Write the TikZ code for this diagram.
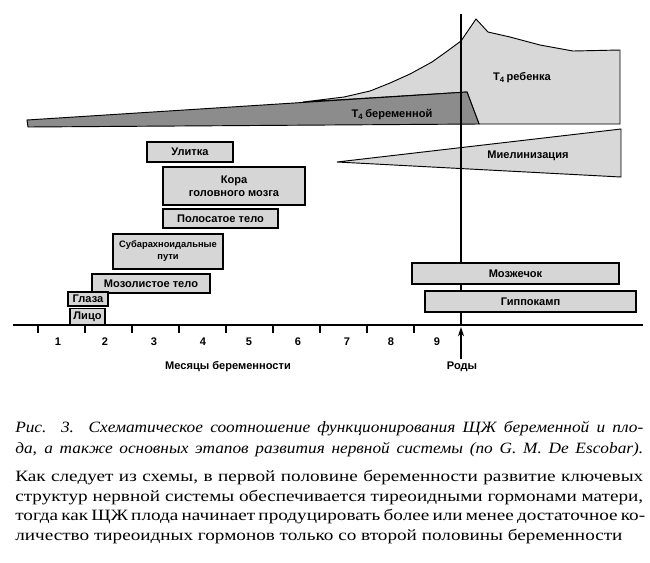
\documentclass[tikz,border=0pt]{standalone}
\usepackage{fontspec}
\setmainfont{Liberation Serif}
\newfontfamily\lsans{Liberation Sans}
\newfontfamily\capfont[FakeStretch=1.22]{Liberation Serif}
\newfontfamily\capit[FakeStretch=1.1]{Liberation Serif}
\usetikzlibrary{arrows.meta}
\definecolor{boxgray}{RGB}{214,214,214}
\definecolor{lightarea}{RGB}{216,216,216}
\definecolor{darkarea}{RGB}{140,140,140}
\tikzset{
  lbl/.style={font=\lsans\bfseries\fontsize{8.3}{9.8}\selectfont, inner sep=0pt, align=center},
  stagebox/.style 2 args={draw, fill=boxgray, line width=0.8pt, minimum width=#1*0.75pt, minimum height=#2*0.75pt, inner sep=0pt, align=center, font=\lsans\bfseries\fontsize{8.3}{9.8}\selectfont},
  capline/.style={anchor=base west, inner sep=0pt, font=\capfont\fontsize{11.8}{13.5}\selectfont},
  capitline/.style={anchor=base west, inner sep=0pt, font=\capit\itshape\fontsize{11.8}{13.5}\selectfont},
  axisline/.style={line width=0.8pt},
}
\begin{document}
\begin{tikzpicture}[x=0.75pt,y=-0.75pt]
\useasboundingbox (0,0) rectangle (650,562);
% T4 child
\draw[fill=lightarea, line width=0.7pt] (303,102) -- (344,97) -- (370,91) -- (390,83) -- (410,74) -- (432,62) -- (446,52) -- (461,41) -- (476,19) -- (488,32) -- (510,37) -- (540,45) -- (573,51) -- (620,50) -- (620,124) -- (479,124) -- (467,92) -- cycle;
% T4 mother
\draw[fill=darkarea, line width=0.7pt] (27,120) -- (467,92) -- (479,124) -- (28,127) -- cycle;
% Myelinisation
\draw[fill=lightarea, line width=0.7pt] (337,162) -- (621,129) -- (621,177) -- cycle;
\node[lbl] (t4m) at (392,115) {T\textsubscript{4}\,беременной};
\node[lbl] (t4c) at (522,78) {T\textsubscript{4}\,ребенка};
\node[lbl] (myel) at (528,156) {Миелинизация};
% birth line
\coordinate (btop) at (461,14);
\coordinate (bbot) at (461,325);
\draw[axisline] (btop) -- (bbot);
% boxes
\node[stagebox={86}{20}] (ulitka) at (190,152) {Улитка};
\node[stagebox={142}{38}] (kora) at (234,186) {Кора\\головного мозга};
\node[stagebox={115}{19}] (polos) at (220.5,218.5) {Полосатое тело};
\node[stagebox={110}{35}, font=\lsans\bfseries\fontsize{7}{9}\selectfont] (subar) at (168,251.5) {Субарахноидальные\\пути};
\node[stagebox={118}{19}] (mozol) at (151,283.5) {Мозолистое тело};
\node[stagebox={40}{14}] (glaza) at (88,299) {Глаза};
\node[stagebox={35}{16}] (lico) at (87.5,316.5) {Лицо};
\node[stagebox={207}{21}] (mozzh) at (515.5,273.5) {Мозжечок};
\node[stagebox={211}{21}] (gippo) at (530.5,301.5) {Гиппокамп};
% axis
\coordinate (ax0) at (13,325);
\coordinate (ax1) at (643,325);
\draw[axisline] (ax0) -- (ax1);
\foreach \i in {0,...,8} \draw[axisline] (38+47*\i,325) -- ++(0,8);
\foreach \x/\n in {58/1,105/2,154/3,203/4,249/5,298/6,347/7,391/8,437/9}
  \node[lbl] (m\n) at (\x,342) {\n};
\node[lbl] (months) at (228,367) {Месяцы беременности};
\node[lbl] (rody) at (462,367) {Роды};
\coordinate (birth) at (461,327);
\draw[axisline, -{Stealth[length=7pt,width=4.5pt]}] (rody.north) ++(-1,-2.5) -- (birth);
% caption
\node[capitline] (c1) at (15,432) {\makebox[471pt][s]{Рис. 3. Схематическое соотношение функционирования ЩЖ беременной и пло-}};
\node[capitline] (c2) at (15,453) {\makebox[471pt][s]{да, а также основных этапов развития нервной системы (по G. M. De Escobar).}};
\node[capline] (c3) at (15,481) {\makebox[471pt][s]{Как следует из схемы, в первой половине беременности развитие ключевых}};
\node[capline] (c4) at (15,501) {\makebox[471pt][s]{структур нервной системы обеспечивается тиреоидными гормонами матери,}};
\node[capline] (c5) at (15,520.5) {\makebox[471pt][s]{тогда как ЩЖ плода начинает продуцировать более или менее достаточное ко-}};
\node[capline] (c6) at (15,540) {личество тиреоидных гормонов только со второй половины беременности};
\end{tikzpicture}
\end{document}
